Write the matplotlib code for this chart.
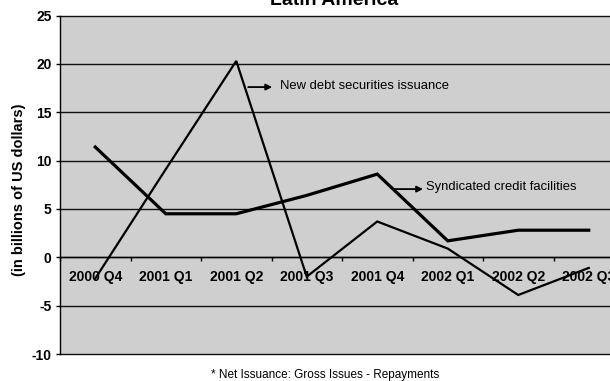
import matplotlib
matplotlib.use("Agg")
import matplotlib.pyplot as plt
import numpy as np

plt.rcParams["font.family"] = ["Liberation Sans", "DejaVu Sans"]

quarters = ["2000 Q4", "2001 Q1", "2001 Q2", "2001 Q3",
            "2001 Q4", "2002 Q1", "2002 Q2", "2002 Q3"]
new_debt = [-2.2, 9.1, 20.3, -2.0, 3.7, 0.9, -3.9, -1.1]
syndicated = [11.4, 4.5, 4.5, 6.4, 8.6, 1.7, 2.8, 2.8]
y_ticks = [-10, -5, 0, 5, 10, 15, 20, 25]

W, H = 610, 381
fig = plt.figure(figsize=(W / 100, H / 100), dpi=100)
ax = fig.add_axes([60 / W, 27 / H, 564 / W, 338.5 / H])
ax.set_facecolor("#cfcfcf")

x = np.arange(len(quarters))
ax.set_xlim(-0.5, len(quarters) - 0.5)
ax.set_ylim(-10, 25)

# horizontal rules at every tick
for yv in y_ticks:
    ax.axhline(yv, color="#111111", lw=1.0, zorder=1, clip_on=False)

ax.plot(x, syndicated, color="black", lw=2.3, zorder=3, solid_joinstyle="miter")
ax.plot(x, new_debt, color="black", lw=1.6, zorder=3, solid_joinstyle="miter")

# axes frame
for side in ["top", "right"]:
    ax.spines[side].set_visible(False)
ax.spines["left"].set_color("black")
ax.spines["left"].set_linewidth(1.0)

ax.set_yticks(y_ticks)
ax.set_yticklabels([str(v) for v in y_ticks], fontsize=10, fontweight="bold")
ax.tick_params(axis="y", direction="out", length=3, width=1, pad=3)

# category labels sit just under the zero line
ax.set_xticks(x)
ax.set_xticks(np.arange(-0.5, len(quarters), 1.0), minor=True)
ax.tick_params(axis="x", which="major", length=0)
ax.tick_params(axis="x", which="minor", length=3, width=1, direction="out")
ax.xaxis.set_ticks_position("bottom")
ax.spines["bottom"].set_position(("data", 0))
ax.spines["bottom"].set_linewidth(1.0)
ax.set_xticklabels([])
for xi, lab in zip(x, quarters):
    ax.text(xi, -2.0, lab, ha="center", va="center", fontsize=10,
            fontweight="bold", zorder=4, clip_on=False)

fig.text(19 / W, 1 - 190 / H, "(in billions of US dollars)", rotation=90,
         ha="center", va="center", fontsize=10.5, fontweight="bold")

# series labels with arrows
ax.annotate("", xy=(2.51, 17.6), xytext=(2.17, 17.6),
            arrowprops=dict(arrowstyle="-|>", color="black", lw=1.3,
                            mutation_scale=9, shrinkA=0, shrinkB=0))
ax.text(2.62, 17.7, "New debt securities issuance", fontsize=9.4,
        ha="left", va="center", zorder=4)
ax.annotate("", xy=(4.65, 7.05), xytext=(4.22, 7.05),
            arrowprops=dict(arrowstyle="-|>", color="black", lw=1.3,
                            mutation_scale=9, shrinkA=0, shrinkB=0))
ax.text(4.69, 7.25, "Syndicated credit facilities", fontsize=9.4,
        ha="left", va="center", zorder=4)

fig.text(334 / W, 1 - 5 / H, "Latin America", ha="center", va="baseline",
         fontsize=14, fontweight="bold")
fig.text(325 / W, 1 - 378 / H, "* Net Issuance: Gross Issues - Repayments",
         ha="center", va="baseline", fontsize=8.5)

fig.savefig("out.png", dpi=100, facecolor="white")
